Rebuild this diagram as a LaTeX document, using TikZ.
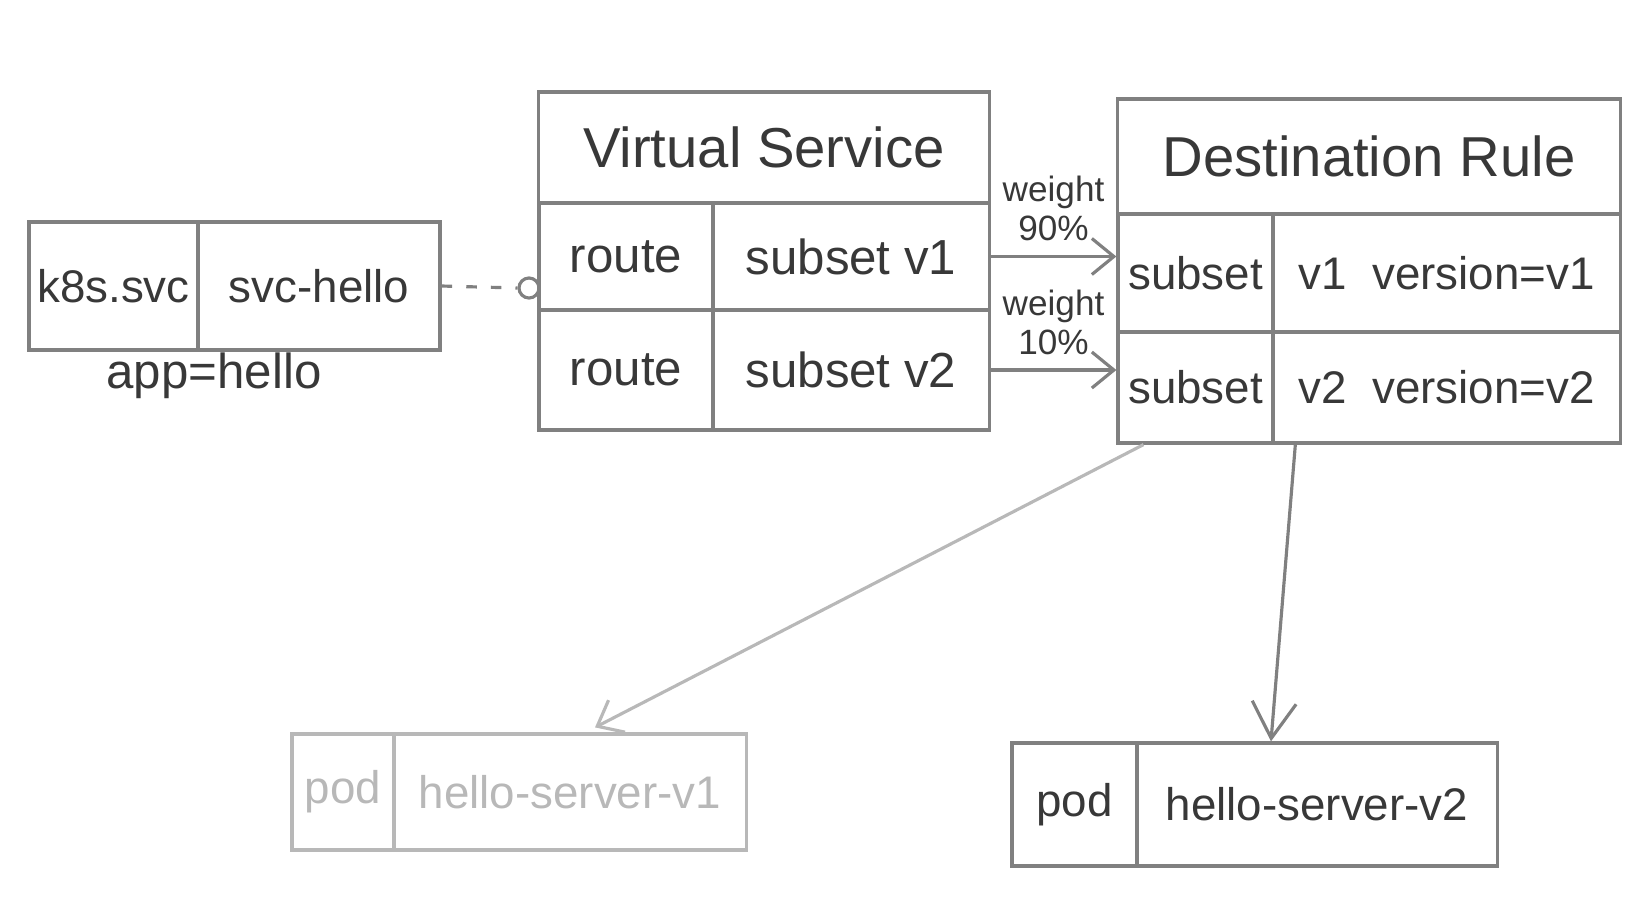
\documentclass[tikz,border=0pt]{standalone}
\usepackage{fontspec}
\setmainfont{Liberation Sans}
\usetikzlibrary{positioning,arrows.meta}
\definecolor{pencil}{gray}{0.5}
\definecolor{lead}{gray}{0.22}
\definecolor{faint}{gray}{0.72}
\tikzset{
  cellbox/.style={draw=pencil, line width=0.9pt, inner sep=0pt, text=lead, font=\fontsize{14}{16}\selectfont},
  headbox/.style={cellbox, font=\fontsize{16}{19}\selectfont},
  smallbox/.style={cellbox, font=\fontsize{13}{15}\selectfont},
  podbox/.style={smallbox, draw=faint, text=faint},
  flowarrow/.style={-{Straight Barb[length=2.2mm, width=3.6mm]}, draw=pencil, line width=0.9pt},
  weightlabel/.style={align=center, text=lead, inner sep=4pt, font=\fontsize{10}{11}\selectfont}
}
\begin{document}
\begin{tikzpicture}[x=0.01cm, y=-0.01cm]
  \useasboundingbox (0,0) rectangle (1636,914);
  % k8s service
  \node[smallbox, minimum width=1.69cm, minimum height=1.28cm] (k8s) at (113.5,286) {k8s.svc};
  \node[smallbox, minimum width=2.42cm, minimum height=1.28cm] (svchello) at (319,286) {svc-hello};
  \node[text=lead, font=\fontsize{14}{16}\selectfont] (app) at (214,376) {app=hello};
  \node[circle, draw=pencil, line width=0.9pt, minimum size=0.2cm, inner sep=0pt] (hook) at (529,288) {};
  \draw[pencil, line width=0.9pt, dash pattern=on 3pt off 4pt] (svchello.east) -- (hook.west);
  % virtual service
  \node[headbox, minimum width=4.5cm, minimum height=1.11cm] (vs) at (764,147.5) {Virtual Service};
  \node[cellbox, minimum width=1.74cm, minimum height=1.07cm] (vsr1) at (626,256.5) {route};
  \node[cellbox, minimum width=2.76cm, minimum height=1.07cm] (vsv1) at (851,256.5) {subset v1};
  \node[cellbox, minimum width=1.74cm, minimum height=1.2cm] (vsr2) at (626,370) {route};
  \node[cellbox, minimum width=2.76cm, minimum height=1.2cm] (vsv2) at (851,370) {subset v2};
  % destination rule
  \node[headbox, minimum width=5.02cm, minimum height=1.15cm] (dr) at (1369,156.5) {Destination Rule};
  \node[smallbox, minimum width=1.55cm, minimum height=1.18cm] (drs1) at (1195.5,273) {subset};
  \node[smallbox, minimum width=3.47cm, minimum height=1.18cm] (drv1) at (1446.5,273) {v1~~version=v1};
  \node[smallbox, minimum width=1.55cm, minimum height=1.11cm] (drs2) at (1195.5,387.5) {subset};
  \node[smallbox, minimum width=3.47cm, minimum height=1.11cm] (drv2) at (1446.5,387.5) {v2~~version=v2};
  % pods
  \node[podbox, minimum width=1.02cm, minimum height=1.16cm] (pod1) at (343,792) {pod};
  \node[podbox, minimum width=3.52cm, minimum height=1.16cm] (hs1) at (570,792) {hello-server-v1};
  \node[smallbox, minimum width=1.25cm, minimum height=1.23cm] (pod2) at (1074.5,804.5) {pod};
  \node[smallbox, minimum width=3.6cm, minimum height=1.23cm] (hs2) at (1317,804.5) {hello-server-v2};
  % traffic split
  \draw[flowarrow] (vsv1.east) -- (vsv1.east -| drs1.west) node[weightlabel, midway, above] {weight\\90\%};
  \draw[flowarrow] (vsv2.east) -- (vsv2.east -| drs2.west) node[weightlabel, midway, above] {weight\\10\%};
  \draw[flowarrow, draw=faint] ([xshift=-0.52cm]drs2.south) -- ([xshift=0.25cm, yshift=0.05cm]hs1.north);
  \draw[flowarrow, -{Straight Barb[length=3.6mm, width=4.4mm]}] ([xshift=0.24cm]drv2.south west) -- ([xshift=-0.46cm]hs2.north);
\end{tikzpicture}
\end{document}
